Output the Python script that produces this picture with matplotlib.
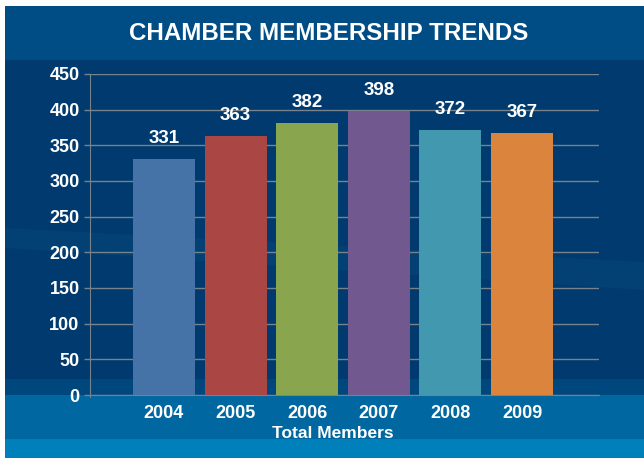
import matplotlib
matplotlib.use("Agg")
import matplotlib.pyplot as plt
from matplotlib.patches import Rectangle, Polygon

# data
years = ["2004", "2005", "2006", "2007", "2008", "2009"]
members = [331, 363, 382, 398, 372, 367]
bar_colors = ["#4572a7", "#aa4643", "#89a54e", "#71588f", "#4198af", "#db843d"]
y_ticks = [0, 50, 100, 150, 200, 250, 300, 350, 400, 450]

W, H = 644, 458
plt.rcParams['font.family'] = ['Liberation Sans', 'DejaVu Sans']

fig = plt.figure(figsize=(W / 100, H / 100), dpi=100)
fig.patch.set_facecolor("white")


def band(y0, y1, color, x0=5):
    # rectangle in pixel coords (top-down y)
    fig.patches.append(Rectangle((x0 / W, 1 - y1 / H), (W - x0) / W, (y1 - y0) / H,
                                 transform=fig.transFigure, facecolor=color,
                                 edgecolor="none", zorder=-2))


band(6, 60, "#004c84")
band(60, 380, "#003a6e")
band(379, 395, "#00477e")
band(395, 439, "#0067a0")
band(439, 458, "#0080ba")

# faint swoosh across the background
sw = [(5, 228), (644, 262), (644, 290), (5, 248)]
fig.patches.append(Polygon([(x / W, 1 - y / H) for x, y in sw], closed=True,
                           transform=fig.transFigure, facecolor="#1a6a9a",
                           alpha=0.15, edgecolor="none", zorder=-1))

ax = fig.add_axes([90 / W, 1 - 395 / H, (599 - 90) / W, (395 - 74) / H])
ax.set_facecolor("none")

x = list(range(len(years)))
bars = ax.bar(x, members, width=0.866, color=bar_colors, zorder=3)

for xi, v in zip(x, members):
    ax.annotate(str(v), (xi, v), xytext=(0, 11.5), textcoords="offset points",
                ha="center", va="baseline", color="white", fontsize=13.5,
                fontweight="bold")

ax.set_xlim(-1.033, 6.075)
ax.set_ylim(0, 450)
ax.set_yticks(y_ticks)
ax.set_xticks(x)
ax.set_xticklabels(years)
ax.grid(axis="y", color="#76828c", linewidth=1, zorder=1)
ax.tick_params(axis="y", colors="#76828c", length=4.5, width=1, pad=3,
               labelcolor="white", labelsize=13)
ax.tick_params(axis="x", length=0, pad=7, labelcolor="white", labelsize=13)
for lbl in ax.get_xticklabels() + ax.get_yticklabels():
    lbl.set_fontweight("bold")

for s in ["top", "right"]:
    ax.spines[s].set_visible(False)
ax.spines["left"].set_color("#76828c")
ax.spines["bottom"].set_color("#76828c")
ax.spines["left"].set_bounds(-3, 450)

fig.text(329 / W, 1 - 33 / H, "CHAMBER MEMBERSHIP TRENDS", ha="center", va="center",
         color="white", fontsize=17.4, fontweight="bold")
fig.text(333 / W, 1 - 434 / H, "Total Members", ha="center", va="center",
         color="white", fontsize=12.5, fontweight="bold")

fig.savefig("out.png", dpi=100, facecolor=fig.get_facecolor())
